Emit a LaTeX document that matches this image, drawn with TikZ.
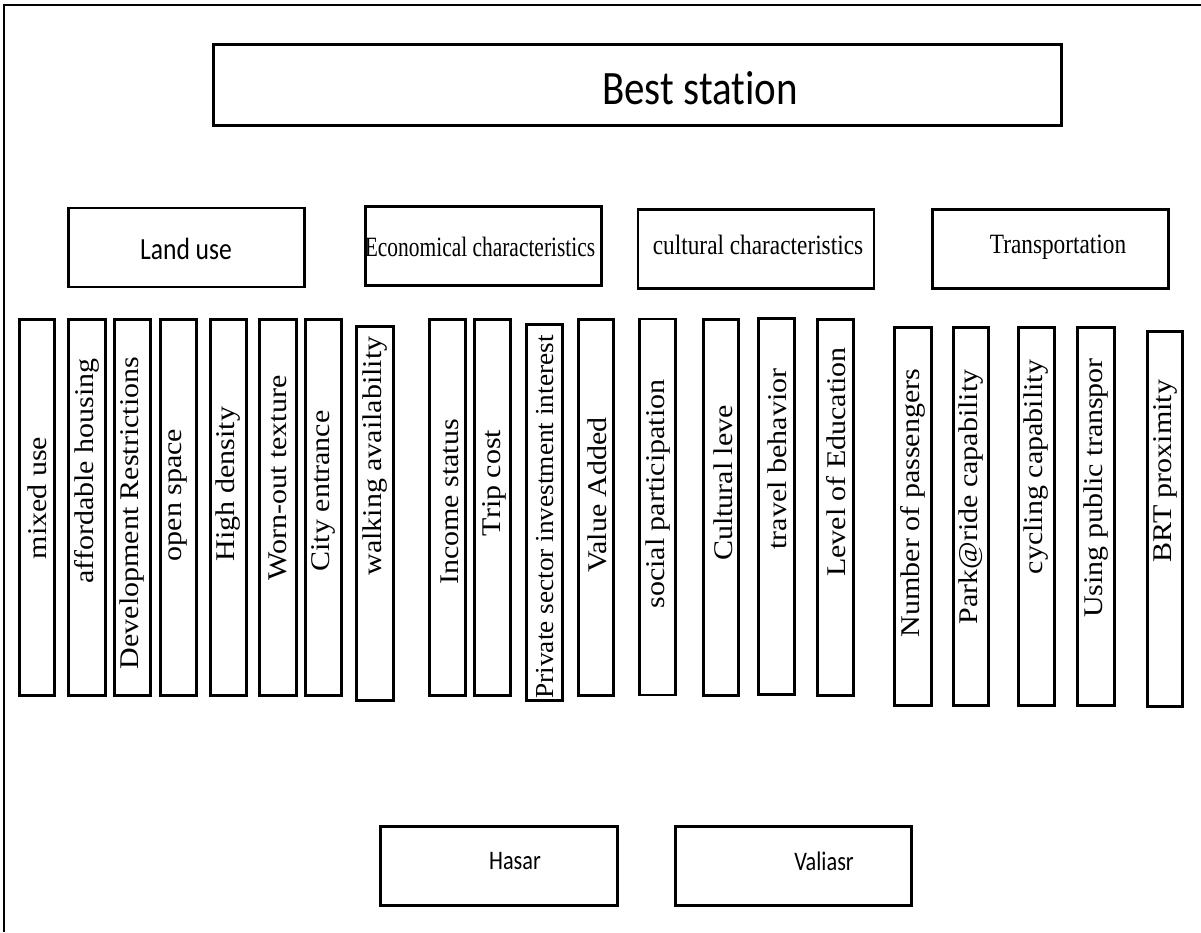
\documentclass[tikz,border=0pt]{standalone}
\usepackage{fontspec}
\usepackage{graphicx}
\setmainfont{Liberation Serif}
\newfontfamily\carl[Ligatures=NoCommon]{Carlito}
\newcommand\fs[1]{\fontsize{#1}{#1}\selectfont}
\newcommand\vtext[1]{\scalebox{1}[0.9]{#1}}
\newcommand\htext[1]{\scalebox{1}[1.2]{#1}}
\begin{document}
\begin{tikzpicture}[x=1pt,y=-1pt,
 box/.style={draw, line width=2.8pt, rectangle, inner sep=0pt},
 catbox/.style={box, minimum width=236pt, minimum height=79pt},
 bar/.style={box, minimum width=36pt, minimum height=376pt},
 vlab/.style={rotate=90, inner sep=0pt, font=\fs{30}},
 rlab/.style={inner sep=0pt, font=\fs{23.3}},
]
\useasboundingbox (0,0) rectangle (1201,932);
\draw[line width=2pt] (4,932) -- (4,5) -- (1201,5);

% top box
\node[box, minimum width=848pt, minimum height=81pt] (best) at (637.5,85) {};
\node[inner sep=0pt, font={\carl\fs{41}}] (bestt) at (700,88) {\scalebox{1}[1.17]{Best station}};

% category boxes
\node[catbox] (land) at (186.5,247.5) {};
\node[inner sep=0pt, font={\carl\fs{25.6}}] (landt) at (186,249) {\htext{Land use}};
\node[catbox] (econ) at (483.5,246) {};
\node[rlab] (econt) at (480,247) {\scalebox{0.92}[1.2]{Economical characteristics}};
\node[catbox] (cult) at (756,249) {};
\node[rlab] (cultt) at (758,245) {\htext{cultural characteristics}};
\node[catbox] (trans) at (1050.5,249) {};
\node[rlab] (transt) at (1058,247) {\htext{Transportation}};

% bars
\node[bar, minimum width=35pt] (b1) at (37,507.5) {};
\node[bar, minimum width=37pt] (b2) at (87,507.5) {};
\node[bar] (b3) at (132.5,507.5) {};
\node[bar] (b4) at (178.5,507.5) {};
\node[bar] (b5) at (228.5,507.5) {};
\node[bar, minimum width=37pt] (b6) at (278,507.5) {};
\node[bar] (b7) at (323.5,507.5) {};
\node[bar, minimum width=37pt, minimum height=374pt] (b8) at (375,513.5) {};
\node[bar] (b9) at (447.5,507.5) {};
\node[bar] (b10) at (492.5,507.5) {};
\node[bar] (b11) at (544.5,512.5) {};
\node[bar, minimum width=35pt] (b12) at (596,507.5) {};
\node[bar] (b13) at (657.5,507) {};
\node[bar, minimum width=35pt] (b14) at (721,507.5) {};
\node[bar] (b15) at (776.5,506.5) {};
\node[bar] (b16) at (835.5,507.5) {};
\node[bar, minimum width=37pt, minimum height=378pt] (b17) at (913,516.5) {};
\node[bar, minimum width=35pt, minimum height=378pt] (b18) at (971,516.5) {};
\node[bar, minimum height=378pt] (b19) at (1036.5,516.5) {};
\node[bar, minimum width=37pt, minimum height=378pt] (b20) at (1096,516.5) {};
\node[bar, minimum width=35pt, minimum height=375pt] (b21) at (1165,519) {};

% bar labels
\node[vlab] (t1) at (37,498) {\vtext{mixed use}};
\node[vlab] (t2) at (87,471) {\vtext{affordable housing}};
\node[vlab] (t3) at (132.5,513) {\vtext{Development Restrictions}};
\node[vlab] (t4) at (178.5,495) {\vtext{open space}};
\node[vlab] (t5) at (228.5,484) {\vtext{High density}};
\node[vlab] (t6) at (278,478) {\vtext{Worn-out texture}};
\node[vlab] (t7) at (323.5,491) {\vtext{City entrance}};
\node[vlab] (t8) at (375,456) {\vtext{walking availability}};
\node[vlab] (t9) at (450,502) {\vtext{Income status}};
\node[vlab] (t10) at (494,483) {\vtext{Trip cost}};
\node[vlab, font=\fs{27.3}] (t11) at (545,517) {\scalebox{1}[0.95]{Private sector investment interest}};
\node[vlab] (t12) at (597,495) {\vtext{Value Added}};
\node[vlab] (t13) at (658,494) {\vtext{social participation}};
\node[vlab] (t14) at (723,483) {\vtext{Cultural leve}};
\node[vlab] (t15) at (777,459) {\vtext{travel behavior}};
\node[vlab] (t16) at (836,462) {\vtext{Level of Education}};
\node[vlab] (t17) at (913,503) {\vtext{Number of passengers}};
\node[vlab] (t18) at (971,497) {\vtext{Park@ride capability}};
\node[vlab] (t19) at (1036.5,467) {\vtext{cycling capability}};
\node[vlab] (t20) at (1096,488) {\vtext{Using public transpor}};
\node[vlab] (t21) at (1165,471) {\vtext{BRT proximity}};

% bottom boxes
\node[catbox, minimum width=237pt] (hasar) at (499,866) {};
\node[inner sep=0pt, font={\carl\fs{22.3}}] (hasart) at (515,861) {\htext{Hasar}};
\node[catbox] (vali) at (793.5,866) {};
\node[inner sep=0pt, font={\carl\fs{22.3}}] (valit) at (824,861) {\htext{Valiasr}};
\end{tikzpicture}
\end{document}
